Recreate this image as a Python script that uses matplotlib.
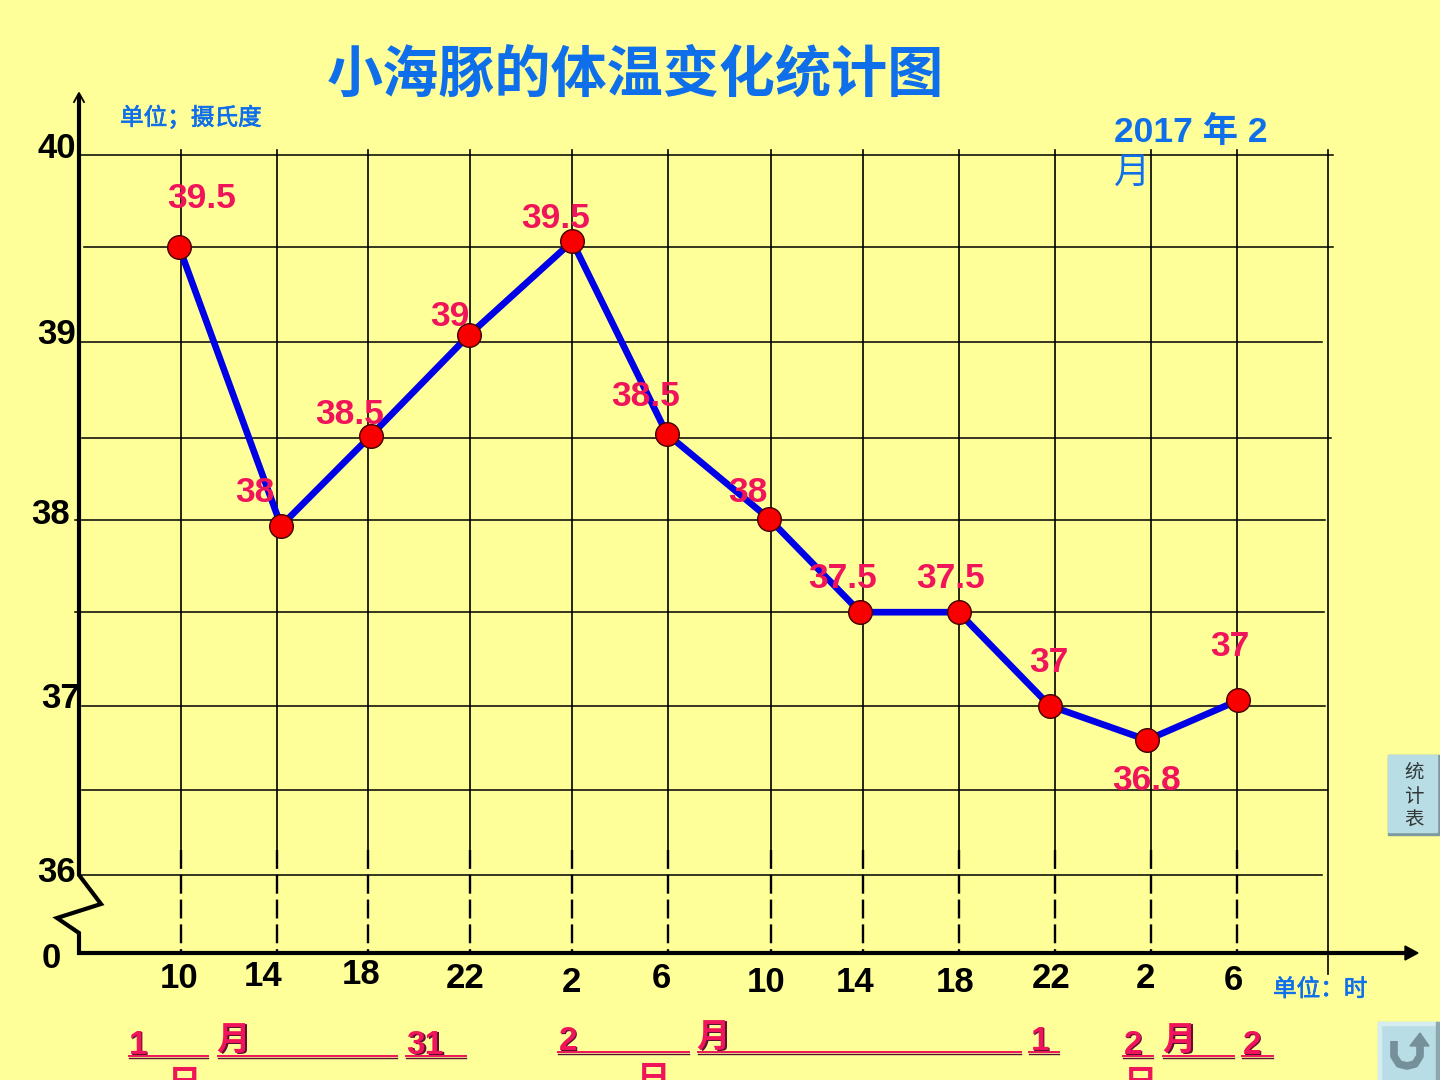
"""Dolphin body temperature line chart on a yellow slide background."""

import matplotlib
matplotlib.use("Agg")
import matplotlib.patheffects as pe
import matplotlib.pyplot as plt
from matplotlib.patches import Polygon, Rectangle

plt.rcParams["font.family"] = ["Liberation Sans", "Noto Sans CJK SC", "DejaVu Sans"]

BG = "#FFFF99"
BLUE_TEXT = "#0F6FEA"
PINK = "#F0145A"
LINE_BLUE = "#0000E6"

# hours since 10:00 on 31 Jan
point_hours = [-0.08, 4.17, 7.9, 12.0, 16.3, 20.25, 24.5, 28.3, 32.4, 36.2, 40.25, 44.05]
point_temps = [39.49, 37.94, 38.44, 39.0, 39.52, 38.45, 37.98, 37.46, 37.46, 36.94, 36.75, 36.97]
value_labels = ["39.5", "38", "38.5", "39", "39.5", "38.5", "38", "37.5", "37.5", "37", "36.8", "37"]

grid_hours = [0, 4, 7.8, 12.05, 16.3, 20.3, 24.6, 28.4, 32.4, 36.4, 40.4, 44, 47.8]
hour_labels = ["10", "14", "18", "22", "2", "6", "10", "14", "18", "22", "2", "6"]
grid_temps = [40, 39.49, 38.96, 38.43, 37.97, 37.46, 36.94, 36.47, 36]
temp_labels = ["40", "39", "38", "37", "36", "0"]

# text placement in slide pixels
value_label_xy = [(202, 198), (255, 493), (350, 414), (450, 316), (556, 218), (646, 397),
                  (748, 493), (843, 579), (951, 579), (1049, 663), (1147, 781), (1230, 647)]
hour_label_xy = [(179, 978), (263, 977), (361, 975), (465, 979), (571, 982), (661, 979),
                 (766, 982), (855, 983), (955, 983), (1051, 979), (1145, 978), (1233, 981)]
temp_label_xy = [(57, 148), (57, 335), (51, 515), (61, 698), (57, 873), (51, 959)]
# one row per piece of the date row below the axis: text, x, y, underline start, end
date_pieces = [("1", 138, 1045, 129, 208), ("月", 233, 1042, 218, 397), ("31", 425, 1045, 406, 466),
               ("2", 568, 1041, 558, 689), ("月", 713, 1039, 698, 1021), ("1", 1040, 1041, 1029, 1059),
               ("2", 1133, 1045, 1123, 1153), ("月", 1179, 1042, 1163, 1234), ("2", 1252, 1045, 1242, 1273)]
date_tail_xy = [(185, 1085), (654, 1081), (1141, 1085)]


def main():
    fig = plt.figure(figsize=(14.4, 10.8), dpi=100, facecolor=BG)

    # chart axes: 24 px per hour, 180 px per degree, 10:00 at x=181, 36 degrees at y=875
    ax = fig.add_axes([0, 0, 1, 1], facecolor="none")
    ax.set_xlim(-181 / 24, (1440 - 181) / 24)
    ax.set_ylim(36 - 205 / 180, 36 + 875 / 180)
    ax.axis("off")

    # slide pixels, for text and furniture
    px = fig.add_axes([0, 0, 1, 1], facecolor="none", zorder=5)
    px.set_xlim(0, 1440)
    px.set_ylim(1080, 0)
    px.axis("off")

    grid_starts = [78, 84, 78, 82, 75, 75, 82, 82, 78]
    grid_ends = [1333, 1333, 1322, 1331, 1325, 1324, 1325, 1327, 1322]
    for t, x0, x1 in zip(grid_temps, grid_starts, grid_ends):
        ax.plot([(x0 - 181) / 24, (x1 - 181) / 24], [t, t], color="black", lw=1.1)

    for i, h in enumerate(grid_hours):
        last = i == len(grid_hours) - 1
        ax.plot([h, h], [40.03, 35.45 if last else 36.14], color="black", lw=1.2)
        if not last:
            ax.plot([h, h], [36.14, 35.56], color="black", lw=1.7, ls=(0, (8, 2.5)))

    ax.plot(point_hours, point_temps, color=LINE_BLUE, lw=4.8, solid_capstyle="round", zorder=3)
    ax.plot(point_hours, point_temps, ls="none", marker="o", ms=17, mfc="#F80000",
            mec="#400000", mew=1.0, zorder=4)

    # broken y axis and x axis
    px.plot([79, 79, 101, 57, 79, 79, 1405], [97, 875, 904, 918, 933, 953, 953],
            color="black", lw=3.0, solid_joinstyle="miter")
    px.plot([74, 79, 84], [102, 93, 102], color="black", lw=1.3)
    px.add_patch(Polygon([[1405, 946], [1418, 953], [1405, 960]], closed=True, color="black"))

    heavy = [pe.withStroke(linewidth=0.5, foreground=BLUE_TEXT)]
    px.text(636, 77, "小海豚的体温变化统计图", color=BLUE_TEXT, fontsize=40.4, fontweight="bold",
            ha="center", va="center")
    px.text(120, 118, "单位；摄氏度", color=BLUE_TEXT, fontsize=17, ha="left", va="center", path_effects=heavy)
    px.text(1273, 990, "单位：时", color=BLUE_TEXT, fontsize=17, ha="left", va="center", path_effects=heavy)
    px.text(1114, 132, "2017 年 2", color=BLUE_TEXT, fontsize=25.5, fontweight="bold", ha="left", va="center")
    px.text(1114, 173, "月", color=BLUE_TEXT, fontsize=26, ha="left", va="center")

    for label, (x, y) in zip(value_labels, value_label_xy):
        px.text(x, y, label, color=PINK, fontsize=25.5, fontweight="bold", ha="center", va="center")
    for label, (x, y) in zip(hour_labels, hour_label_xy):
        px.text(x, y, label, color="black", fontsize=25, fontweight="bold", ha="center", va="center")
    for label, (x, y) in zip(temp_labels, temp_label_xy):
        px.text(x, y, label, color="black", fontsize=25, fontweight="bold", ha="center", va="center")

    # date row: pink with a dark offset shadow, underlined
    for text, x, y, u0, u1 in date_pieces:
        px.text(x + 1.5, y + 1.5, text, color="#5A1030", fontsize=24, fontweight="bold", ha="center", va="center")
        px.text(x, y, text, color=PINK, fontsize=24, fontweight="bold", ha="center", va="center")
        y_line = 1056 if x < 500 or x > 1100 else 1052
        px.plot([u0, u1], [y_line + 1.5, y_line + 1.5], color="#5A1030", lw=1.0)
        px.plot([u0, u1], [y_line, y_line], color=PINK, lw=1.4)
    for x, y in date_tail_xy:
        px.text(x, y, "日", color=PINK, fontsize=24, fontweight="bold", ha="center", va="center")

    # table button
    px.add_patch(Rectangle((1388, 755), 52, 80, color="#7F9A9F"))
    px.add_patch(Rectangle((1388, 755), 49, 77, color="#B9DDE4"))
    for i, ch in enumerate("统计表"):
        px.text(1414, 773 + 24 * i, ch, color="#303838", fontsize=14, ha="center", va="center")

    # return button
    px.add_patch(Rectangle((1378, 1022), 62, 58, color="#B9DDE4"))
    px.add_patch(Rectangle((1378, 1022), 62, 3, color="#D5ECF0"))
    px.add_patch(Rectangle((1378, 1022), 3, 58, color="#D5ECF0"))
    px.add_patch(Rectangle((1436, 1022), 4, 58, color="#8CA8AE"))
    u_x = [1394, 1394, 1399, 1407, 1415, 1420, 1420]
    u_y = [1041, 1056, 1064, 1066, 1064, 1056, 1044]
    px.plot(u_x, u_y, color="#76909A", lw=5.5, solid_capstyle="butt", solid_joinstyle="round")
    px.add_patch(Polygon([[1410, 1046], [1420, 1033], [1429, 1046]], closed=True, color="#76909A"))

    fig.savefig("out.png", dpi=100, facecolor=BG)
    plt.close(fig)


if __name__ == "__main__":
    main()
